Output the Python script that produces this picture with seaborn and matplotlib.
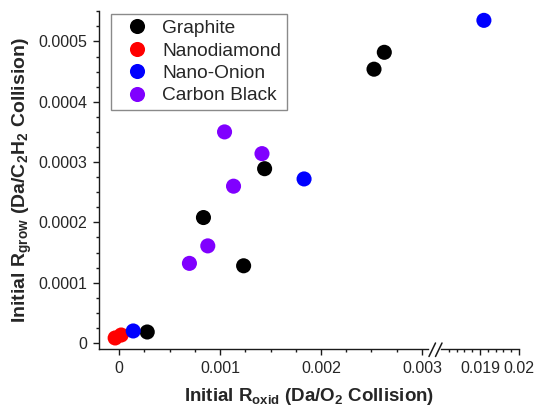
import numpy as np
import pandas as pd
import matplotlib
matplotlib.use("Agg")
import matplotlib.pyplot as plt
from matplotlib.ticker import MultipleLocator, FixedLocator, FuncFormatter
from matplotlib.lines import Line2D
import seaborn as sns

# Initial oxidation rate (Da per O2 collision) and growth rate (Da per C2H2 collision)
graphite_x = [0.000278, 0.000835, 0.001233, 0.001441, 0.002525, 0.002627]
graphite_y = [0.0000182, 0.000208, 0.000128, 0.000289, 0.000454, 0.000482]

nanodiamond_x = [-0.00004, 0.00002]
nanodiamond_y = [0.0000083, 0.0000132]

nano_onion_x = [0.000139, 0.001832, 0.0191]
nano_onion_y = [0.0000199, 0.000272, 0.000535]

carbon_black_x = [0.000696, 0.000878, 0.001133, 0.001044, 0.001415]
carbon_black_y = [0.000132, 0.000161, 0.00026, 0.00035, 0.000314]

materials = ["Graphite", "Nanodiamond", "Nano-Onion", "Carbon Black"]
colors = ["#000000", "#ff0000", "#0000ff", "#8000ff"]

frames = []
for name, xs, ys in zip(
    materials,
    [graphite_x, nanodiamond_x, nano_onion_x, carbon_black_x],
    [graphite_y, nanodiamond_y, nano_onion_y, carbon_black_y],
):
    frames.append(pd.DataFrame({"R_oxid": xs, "R_grow": ys, "Material": name}))
df = pd.concat(frames, ignore_index=True)
palette = dict(zip(materials, colors))

sns.set_theme(style="ticks")
plt.rcParams["font.family"] = ["Liberation Sans", "DejaVu Sans"]
plt.rcParams["mathtext.fontset"] = "custom"
plt.rcParams["mathtext.rm"] = "Liberation Sans"
plt.rcParams["mathtext.bf"] = "Liberation Sans:bold"
plt.rcParams["mathtext.it"] = "Liberation Sans:bold"
plt.rcParams["mathtext.default"] = "bf"

W, H = 537, 407
fig = plt.figure(figsize=(W / 100, H / 100), dpi=100)
fig.patch.set_facecolor("white")


def px_box(x0, x1, y_top, y_bot):
    return [x0 / W, 1 - y_bot / H, (x1 - x0) / W, (y_bot - y_top) / H]


ax = fig.add_axes(px_box(99, 428, 11, 349))
ax_r = fig.add_axes(px_box(441, 519, 11, 349), sharey=ax)

for a in (ax, ax_r):
    sns.scatterplot(
        data=df, x="R_oxid", y="R_grow", hue="Material", hue_order=materials,
        palette=palette, s=118, linewidth=0, ax=a, legend=(a is ax), zorder=3,
    )
    a.set_facecolor("white")
    a.set_xlabel("")
    a.set_ylabel("")
    for side in ("top", "right"):
        a.spines[side].set_visible(False)
    for sp in a.spines.values():
        sp.set_linewidth(1.0)
        sp.set_color("#1a1a1a")
    a.tick_params(which="major", direction="out", length=4.5, width=1.0,
                  color="#1a1a1a", labelsize=11.5, pad=4)
    a.tick_params(which="minor", direction="out", length=2.3, width=1.0,
                  color="#1a1a1a")

fmt = FuncFormatter(lambda v, p: "0" if abs(v) < 1e-12 else "%g" % v)

# Left panel: low-rate region
ax.set_xlim(-0.0002, 0.00306)
ax.set_ylim(-0.00001, 0.0005505)
ax.xaxis.set_major_locator(MultipleLocator(0.001))
ax.xaxis.set_minor_locator(MultipleLocator(0.00025))
ax.yaxis.set_major_locator(MultipleLocator(0.0001))
ax.yaxis.set_minor_locator(MultipleLocator(0.000025))
ax.xaxis.set_major_formatter(fmt)
ax.yaxis.set_major_formatter(fmt)
ax.set_ylabel(r"Initial R$_{grow}$ (Da/C$_2$H$_2$ Collision)",
              fontsize=14, fontweight="bold", labelpad=3)

# Right panel: after the axis break
ax_r.set_xlim(0.018, 0.02)
ax_r.xaxis.set_major_locator(FixedLocator([0.019, 0.02]))
ax_r.xaxis.set_minor_locator(FixedLocator([0.0182, 0.0184, 0.0186, 0.0188,
                                           0.0192, 0.0194, 0.0196, 0.0198]))
ax_r.xaxis.set_major_formatter(fmt)
ax_r.spines["left"].set_visible(False)
ax_r.tick_params(axis="y", which="both", left=False, labelleft=False)

# Axis-break marks
for x0 in (429, 435.5):
    fig.add_artist(Line2D([x0 / W, (x0 + 6.5) / W],
                          [1 - 356.5 / H, 1 - 343 / H],
                          color="#1a1a1a", lw=1.1))

fig.text(309 / W, 1 - 401 / H, r"Initial R$_{oxid}$ (Da/O$_2$ Collision)",
         fontsize=13.5, fontweight="bold", ha="center", va="baseline")

handles, labels = ax.get_legend_handles_labels()
leg = ax.legend(handles, labels, loc="upper left",
                bbox_to_anchor=(12 / 329, 1 - 3 / 338), borderaxespad=0,
                fontsize=13.8, frameon=True, fancybox=False, framealpha=1,
                edgecolor="#8a8a8a", borderpad=0.3, labelspacing=0.26,
                handlelength=2.07, handletextpad=0.3, markerscale=1.0)
leg.get_frame().set_linewidth(1.0)

fig.savefig("out.png", dpi=100, facecolor="white")
